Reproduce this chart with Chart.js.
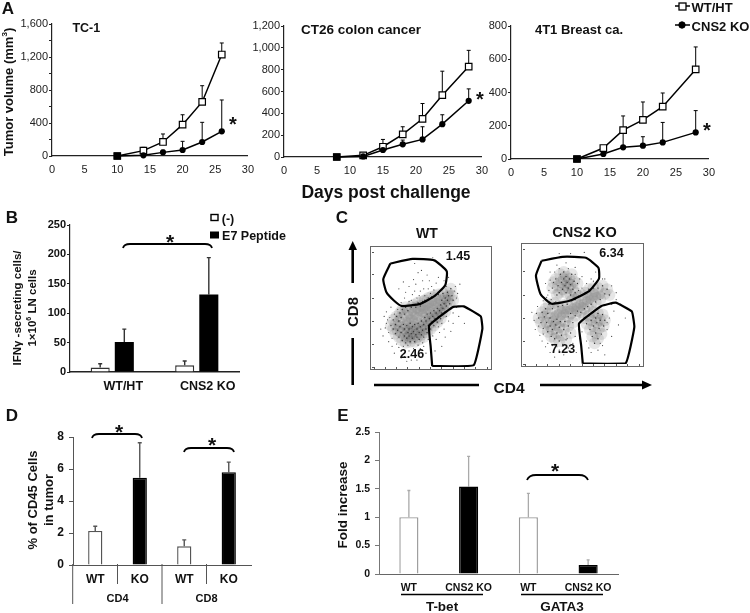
<!DOCTYPE html>
<html>
<head>
<meta charset="utf-8">
<title>Tumor growth panels</title>
<script src="https://cdn.jsdelivr.net/npm/chart.js@4"></script>
<style>
  html, body { margin: 0; padding: 0; background: #fff; }
  #page { position: relative; width: 750px; height: 613px; overflow: hidden; font-family: "Liberation Sans", Arial, sans-serif; color: #111; }
  #page canvas { position: absolute; }
  #page svg { position: absolute; left: 0; top: 0; pointer-events: none; }
  .txt { position: absolute; white-space: nowrap; font-weight: bold; line-height: 1; }
  sup { font-size: 62%; line-height: 0; }
</style>
</head>
<body>
<div id="page">
  <svg id="marks" width="750" height="613" fill="none" stroke="#000">
    <!-- legend A -->
    <path d="M675 6H690M675 25H690" stroke-width="1.5"/>
    <rect x="679" y="3" width="7" height="7" fill="#fff" stroke-width="1.3"/>
    <circle cx="682" cy="25" r="3.2" fill="#000"/>
    <!-- legend B -->
    <rect x="211" y="214.5" width="7" height="6" fill="#fff" stroke-width="1.4"/>
    <rect x="210.5" y="232" width="8" height="6" fill="#000"/>
    <!-- brackets -->
    <path d="M123 248Q124 244 130 244H205Q211 244 212 248" stroke-width="1.8"/>
    <path d="M92 438Q93 434 99 434H135Q141 434 142 438" stroke-width="1.8"/>
    <path d="M184 452Q185 448 191 448H227Q233 448 234 452" stroke-width="1.8"/>
    <path d="M527 480Q529 475 536 475H579Q586 475 588 480" stroke-width="1.8"/>
    <!-- flow plot frames -->
    <rect x="370.5" y="246.5" width="121" height="123" stroke="#666" stroke-width="1"/>
    <rect x="521.5" y="243.5" width="122" height="123" stroke="#666" stroke-width="1"/>
    <!-- flow plot axes -->
    <path d="M352.7 246V283M352.7 338V385M374 385H479M540 385H646" stroke-width="2.6"/>
    <path d="M352.7 241L348.5 250H357Z" fill="#000" stroke="none"/>
    <path d="M652 385L642 380.5V389.5Z" fill="#000" stroke="none"/>
    <!-- panel D group dividers -->
    <path d="M117.5 564V584M206.5 564V584M72.7 564V604M162 564V604" stroke="#555" stroke-width="1"/>
    <!-- panel E group underlines -->
    <path d="M401 594.5H483M521 594.5H603" stroke-width="1.6"/>
  </svg>
</div>
<script>
// panel A, days and tumor volumes
const tcDays = [10, 14, 17, 20, 23, 26]
const tcWt = [0, 65, 170, 380, 655, 1230]
const tcWtErr = [null, 105, 267, 500, 852, 1370]
const tcKo = [0, 8, 44, 73, 170, 299]
const tcKoErr = [null, null, 70, 178, 408, 679]

const ctDays = [8, 12, 15, 18, 21, 24, 28]
const ctWt = [0, 15, 94, 207, 350, 566, 828]
const ctWtErr = [null, null, 161, 277, 490, 786, 977]
const ctKo = [0, 5, 64, 116, 161, 301, 515]
const ctKoErr = [null, null, null, 155, 277, 387, 624]

const brDays = [10, 14, 17, 20, 23, 28]
const brWt = [0, 66, 174, 235, 315, 539]
const brWtErr = [null, 80, 259, 343, 397, 674]
const brKo = [0, 30, 70, 80, 100, 160]
const brKoErr = [null, null, 174, 134, 220, 291]

// panel B
const ifnGroups = ['WT/HT', 'CNS2 KO']
const ifnControl = [7.5, 11.5]
const ifnControlErr = [14, 18.7]
const ifnPeptide = [51, 132]
const ifnPeptideErr = [73, 194.6]

// panel D
const cd45Labels = ['WT', 'KO', 'WT', 'KO']
const cd45Values = [2.13, 5.45, 1.17, 5.8]
const cd45Err = [2.42, 7.64, 1.57, 6.43]

// panel E
const foldLabels = ['WT', 'CNS2 KO', 'WT', 'CNS2 KO']
const foldValues = [1, 1.54, 1, 0.16]
const foldErr = [1.47, 2.07, 1.42, 0.25]

// panel C, gates and events (percent of the plot frame)
const wtUpperGate = [[14.5,90],[34.2,94],[53.4,92.7],[64.4,83.2],[63,71],[53.4,61.6],[41,54.9],[24.7,53],[17.8,57.6],[11,64.9],[8.2,76.5],[14.5,90]]
const wtLowerGate = [[51.5,0.8],[88.2,1.6],[95.9,33.2],[94.5,44],[79.5,52.7],[69.9,52.2],[48.8,36],[50.1,18.4],[51.5,0.8]]
const koUpperGate = [[14.5,89.7],[32.9,93.2],[53.4,92.4],[64.4,83.7],[64.9,74.2],[56.2,63.3],[39.7,55.2],[23.3,52.4],[13.7,60.6],[9.6,76.9],[14.5,89.7]]
const koLowerGate = [[50.7,0.3],[88.2,0.5],[95.9,32],[93.7,45.7],[79.5,53.3],[67.1,50.5],[47.4,35.3],[49.3,15.8],[50.7,0.3]]

const wtCore = [[29,40],[32,42],[35,41],[31,45],[36,45],[39,44],[34,48],[40,48],[43,47],[38,50],[44,50],[47,50],[46,53],[50,52],[49,55],[53,54],[56,56],[52,57],[57,59],[42,52]]
const wtDense = [[15,36],[17,33],[17,41],[19,29],[19,37],[20,44],[21,32],[22,26],[22,40],[23,47],[23,35],[24,30],[24,43],[25,23],[25,50],[26,37],[27,27],[27,33],[27,46],[28,21],[28,52],[29,36],[29,25],[30,30],[30,49],[31,33],[31,27],[32,22],[32,38],[33,52],[33,29],[34,25],[34,35],[35,31],[35,54],[36,22],[36,37],[37,28],[37,52],[38,33],[38,26],[39,38],[39,56],[40,30],[40,24],[41,35],[41,53],[42,28],[42,40],[43,32],[43,57],[44,37],[44,26],[45,43],[45,58],[46,33],[46,40],[47,30],[47,46],[48,36],[48,60],[49,42],[50,33],[50,47],[51,39],[51,61],[52,44],[53,36],[53,49],[54,42],[54,62],[55,47],[56,39],[56,51],[57,44],[57,63],[58,49],[59,54],[59,42],[60,58],[60,47],[61,64],[61,51],[62,55],[63,60],[63,48],[64,53],[65,65],[65,58],[66,62],[67,55],[68,68],[69,62],[70,58]]
const wtSparse = [[10,34],[12,41],[8,27],[13,22],[16,18],[11,48],[18,12],[24,14],[21,50],[27,9],[31,14],[33,6],[37,11],[41,16],[29,5],[44,18],[46,12],[24,56],[27,60],[31,57],[34,63],[38,60],[41,66],[45,62],[48,68],[31,70],[37,72],[43,75],[51,70],[55,73],[47,80],[39,82],[58,66],[62,75],[66,78],[72,70],[74,64],[76,72],[73,52],[70,47],[75,44],[66,40],[62,33],[58,30],[55,24],[60,18],[54,14],[68,31],[80,38],[36,90],[52,95],[22,68],[26,74],[13,30],[14,43],[11,38],[16,25],[18,46],[20,20],[22,17],[26,18],[30,19],[35,16],[39,19],[43,21],[48,24],[52,27],[33,58],[36,66],[40,62],[44,68],[46,58],[50,64],[53,67],[28,65],[35,76],[42,84],[49,75],[57,78],[64,70],[71,66],[73,60],[68,50],[64,44],[60,38],[57,35],[63,26],[70,38],[24,8],[38,6],[6,33],[9,44],[15,52]]

const koCore = [[26,42],[29,44],[32,42],[35,44],[32,47],[36,47],[39,47],[42,49],[45,50],[48,52],[51,53],[54,55],[57,56],[60,58],[63,59],[66,60],[50,50],[56,59],[44,47],[61,62]]
const koDense = [[27,74],[29,68],[30,62],[31,78],[32,71],[33,65],[34,80],[34,74],[35,68],[36,62],[36,76],[37,71],[38,66],[39,74],[40,60],[40,69],[41,78],[42,65],[43,72],[44,62],[24,66],[25,71],[28,60],[46,70],[12,40],[14,36],[15,45],[16,31],[17,41],[18,48],[19,36],[20,28],[20,44],[21,52],[22,33],[22,40],[23,24],[24,48],[24,30],[25,37],[26,22],[26,53],[27,34],[28,27],[28,39],[29,50],[30,20],[30,32],[31,37],[32,25],[33,51],[34,30],[35,37],[36,21],[37,52],[38,33],[38,41],[40,27],[40,44],[41,55],[42,36],[44,42],[44,56],[46,46],[47,59],[49,45],[50,60],[52,48],[53,62],[55,50],[56,65],[58,52],[60,66],[62,54],[64,66],[66,56],[68,68],[70,61],[72,65],[74,60],[52,40],[54,35],[56,42],[57,30],[58,38],[59,24],[60,45],[60,33],[61,18],[62,40],[62,27],[63,36],[64,22],[64,44],[65,31],[66,38],[67,26],[68,43],[69,33],[70,38]]
const koSparse = [[6,45],[8,38],[9,30],[11,50],[13,25],[15,20],[18,15],[22,10],[26,6],[30,12],[34,8],[38,14],[42,18],[45,10],[48,22],[16,55],[20,60],[18,70],[22,80],[28,86],[36,88],[44,84],[50,76],[54,70],[58,74],[62,80],[70,74],[76,68],[80,62],[84,52],[78,46],[74,40],[72,30],[76,24],[68,16],[64,12],[58,10],[70,8],[82,34],[40,96],[52,97],[30,96],[88,40],[19,58],[23,56],[27,54],[21,64],[22,73],[26,80],[30,83],[38,83],[44,78],[48,74],[50,66],[47,64],[10,44],[12,33],[16,26],[20,18],[24,16],[28,15],[33,17],[37,22],[44,24],[47,30],[50,28],[54,20],[56,14],[66,18],[72,36],[76,52],[80,56],[68,74],[60,72]]

Chart.defaults.font.family = '"Liberation Sans", Arial, sans-serif'
Chart.defaults.animation = false
Chart.defaults.responsive = false
Chart.defaults.plugins.legend.display = false
Chart.defaults.plugins.tooltip.enabled = false

const page = document.getElementById('page')

// upward error bars, read from dataset.errTop
const errorBars = {
  id: 'errorBars',
  beforeDatasetsDraw (chart) {
    const ctx = chart.ctx
    chart.data.datasets.forEach((ds, d) => {
      if (!ds.errTop) return
      const meta = chart.getDatasetMeta(d)
      const yScale = chart.scales.y
      ctx.save()
      ctx.strokeStyle = ds.errColor || '#000'
      ctx.lineWidth = ds.errWidth || 1
      meta.data.forEach((el, i) => {
        if (ds.errTop[i] === null) return
        const top = yScale.getPixelForValue(ds.errTop[i])
        const cap = ds.errCap === undefined ? 2 : ds.errCap
        ctx.beginPath()
        ctx.moveTo(el.x, el.y)
        ctx.lineTo(el.x, top)
        ctx.moveTo(el.x - cap, top)
        ctx.lineTo(el.x + cap, top)
        ctx.stroke()
      })
      ctx.restore()
    })
  }
}
Chart.register(errorBars)

// area is the plot rectangle on the page, room is the space kept around it
function addChart (area, room, config) {
  const [x0, y0, x1, y1] = area
  const [l, t, r, b] = room
  const canvas = document.createElement('canvas')
  canvas.width = x1 - x0 + l + r
  canvas.height = y1 - y0 + t + b
  canvas.style.left = (x0 - l) + 'px'
  canvas.style.top = (y0 - t) + 'px'
  page.insertBefore(canvas, document.getElementById('marks'))
  config.options.layout = { padding: { top: t, right: r, left: 0, bottom: 0 } }
  config.options.scales.y.afterFit = s => { s.width = l }
  config.options.scales.x.afterFit = s => { s.height = b }
  return new Chart(canvas, config)
}

function addText (html, cx, cy, size, opts = {}) {
  const el = document.createElement('div')
  el.className = 'txt'
  el.innerHTML = html
  el.style.left = cx + 'px'
  el.style.top = cy + 'px'
  el.style.fontSize = size + 'px'
  el.style.transform = `translate(-50%,-50%) rotate(${opts.rot || 0}deg)`
  page.appendChild(el)
}

const pairs = (xs, ys) => xs.map((x, i) => ({ x, y: ys[i] }))
const points = list => list.map(p => ({ x: p[0], y: p[1] }))

function growthChart (area, room, days, wt, wtErr, ko, koErr, yMax, yStep, labelStep) {
  addChart(area, room, {
    type: 'scatter',
    data: {
      datasets: [
        // first dataset is painted last, KO has to sit on top
        {
          data: pairs(days, ko), errTop: koErr, showLine: true, clip: false,
          borderColor: '#000', borderWidth: 1.5,
          // both groups start together, so the first marker reads as a solid square
          pointStyle: days.map((d, i) => (i === 0 ? 'rect' : 'circle')),
          pointRadius: days.map((d, i) => (i === 0 ? 5 : 3.1)),
          pointBackgroundColor: '#000', pointBorderColor: '#000', pointBorderWidth: 0
        },
        {
          data: pairs(days, wt), errTop: wtErr, showLine: true, clip: false,
          borderColor: '#000', borderWidth: 1.5, pointStyle: 'rect', pointRadius: 4.6,
          pointBackgroundColor: '#fff', pointBorderColor: '#000', pointBorderWidth: 1.2
        }
      ]
    },
    options: {
      scales: {
        x: {
          type: 'linear', min: 0, max: 30,
          border: { color: '#222', width: 1.2 },
          grid: { display: false, drawTicks: false },
          ticks: { stepSize: 5, color: '#222', padding: 7, font: { size: 11 }, maxRotation: 0 }
        },
        y: {
          min: 0, max: yMax,
          border: { color: '#222', width: 1.2 },
          grid: { drawOnChartArea: false, tickLength: 3, tickColor: '#222' },
          ticks: {
            stepSize: yStep, autoSkip: false, color: '#222', padding: 1, font: { size: 11 },
            callback: v => (v % labelStep === 0 ? v.toLocaleString('en-US') : '')
          }
        }
      }
    }
  })
}

growthChart([51.5, 23.5, 250.5, 155.5], [46, 8, 10, 28], tcDays, tcWt, tcWtErr, tcKo, tcKoErr, 1600, 200, 400)
growthChart([283.5, 25.5, 485, 157], [34, 8, 10, 28], ctDays, ctWt, ctWtErr, ctKo, ctKoErr, 1200, 200, 200)
growthChart([510.5, 25.5, 711.5, 158.5], [22, 8, 10, 28], brDays, brWt, brWtErr, brKo, brKoErr, 800, 200, 200)

// panel B
addChart([69.5, 225, 239, 372.5], [30, 8, 6, 24], {
  type: 'bar',
  data: {
    labels: ifnGroups,
    datasets: [
      {
        data: ifnControl, errTop: ifnControlErr, errColor: '#333', errWidth: 1.4,
        backgroundColor: '#fff', borderColor: '#333', borderWidth: 1.4,
        categoryPercentage: 0.571, barPercentage: 0.79
      },
      {
        data: ifnPeptide, errTop: ifnPeptideErr, errColor: '#333', errWidth: 1.4,
        backgroundColor: '#000', borderColor: '#000', borderWidth: 0,
        categoryPercentage: 0.571, barPercentage: 0.79
      }
    ]
  },
  options: {
    scales: {
      x: {
        border: { color: '#222', width: 1.4 },
        grid: { display: false, drawTicks: false },
        ticks: { color: '#111', padding: 7, labelOffset: 11, font: { size: 12.5, weight: 'bold' } }
      },
      y: {
        min: 0, max: 250,
        border: { color: '#222', width: 1.2 },
        grid: { drawOnChartArea: false, tickLength: 3, tickColor: '#222' },
        ticks: { stepSize: 50, color: '#111', padding: 1, font: { size: 11, weight: 'bold' } }
      }
    }
  }
})

// panel C, listed top layer first
function flowChart (area, upper, lower, core, dense, sparse) {
  addChart(area, [3, 1, 1, 3], {
    type: 'scatter',
    data: {
      datasets: [
        { data: points(upper), showLine: true, borderColor: '#000', borderWidth: 2.2, pointRadius: 0, tension: 0.15 },
        { data: points(lower), showLine: true, borderColor: '#000', borderWidth: 2.2, pointRadius: 0, tension: 0.1 },
        { data: points(sparse), pointRadius: 0.6, pointBackgroundColor: '#444', pointBorderWidth: 0 },
        { data: points(dense), pointRadius: 0.7, pointBackgroundColor: '#333', pointBorderWidth: 0 },
        { data: points(core), pointRadius: 4.5, pointBackgroundColor: 'rgba(150,150,150,0.5)', pointBorderWidth: 0 },
        { data: points(dense), pointRadius: 6, pointBackgroundColor: 'rgba(50,50,50,0.12)', pointBorderWidth: 0 }
      ]
    },
    options: {
      scales: {
        x: {
          type: 'linear', min: 0, max: 100,
          border: { display: false },
          grid: { drawOnChartArea: false, tickLength: 2, tickColor: '#555' },
          ticks: { stepSize: 10, display: false }
        },
        y: {
          min: 0, max: 100,
          border: { display: false },
          grid: { drawOnChartArea: false, tickLength: 2, tickColor: '#555' },
          ticks: { stepSize: 20, display: false }
        }
      }
    }
  })
}
flowChart([370.5, 246.5, 491.5, 369.5], wtUpperGate, wtLowerGate, wtCore, wtDense, wtSparse)
flowChart([521.5, 243.5, 643.5, 366.5], koUpperGate, koLowerGate, koCore, koDense, koSparse)

// panel D
addChart([72.5, 436.5, 250.5, 564.5], [28, 14, 6, 28], {
  type: 'bar',
  data: {
    labels: cd45Labels,
    datasets: [{
      data: cd45Values, errTop: cd45Err, errColor: '#555', errWidth: 1.4,
      backgroundColor: ['#fff', '#000', '#fff', '#000'],
      borderColor: ['#555', '#000', '#555', '#000'], borderWidth: 1.4,
      barPercentage: 0.32, categoryPercentage: 1
    }]
  },
  options: {
    scales: {
      x: {
        border: { color: '#555', width: 1 },
        grid: { display: false, drawTicks: false },
        ticks: { color: '#111', padding: 7, font: { size: 12, weight: 'bold' } }
      },
      y: {
        min: 0, max: 8,
        border: { color: '#555', width: 1 },
        grid: { drawOnChartArea: false, tickLength: 4, tickColor: '#555' },
        ticks: { stepSize: 2, color: '#111', padding: 5, font: { size: 12, weight: 'bold' } }
      }
    }
  }
})

// panel E
addChart([379, 432, 618.5, 574.5], [30, 14, 6, 24], {
  type: 'bar',
  data: {
    labels: foldLabels,
    datasets: [{
      data: foldValues, errTop: foldErr, errColor: '#aaa', errWidth: 1.3, errCap: 1.5,
      backgroundColor: ['#fff', '#000', '#fff', '#000'],
      borderColor: ['#999', '#000', '#999', '#000'], borderWidth: 1.4,
      barPercentage: 0.32, categoryPercentage: 1
    }]
  },
  options: {
    scales: {
      x: {
        border: { color: '#666', width: 1 },
        grid: { display: false, drawTicks: false },
        ticks: { color: '#111', padding: 8, font: { size: 10.5, weight: 'bold' } }
      },
      y: {
        min: 0, max: 2.5,
        border: { color: '#777', width: 1 },
        grid: { drawOnChartArea: false, tickLength: 4, tickColor: '#777' },
        ticks: { stepSize: 0.5, color: '#111', padding: 5, font: { size: 10.5, weight: 'bold' }, callback: v => String(v) }
      }
    }
  }
})

// panel letters
addText('A', 8, 8, 17)
addText('B', 12, 217, 17)
addText('C', 342, 217, 17)
addText('D', 12, 415, 17)
addText('E', 343, 415, 17)

// panel A text
addText('Tumor volume (mm<sup>3</sup>)', 7.5, 92, 13, { rot: -90 })
addText('TC-1', 86.3, 28, 12.5)
addText('CT26 colon cancer', 361, 29.5, 13.5)
addText('4T1 Breast ca.', 579, 29, 13)
addText('Days post challenge', 386, 193, 17.5)
addText('WT/HT', 712, 7, 13)
addText('CNS2 KO', 720.5, 25.5, 13)
addText('*', 233, 124, 20)
addText('*', 480, 99, 20)
addText('*', 707, 130, 20)

// panel B text
addText('IFN&gamma; -secreting cells/', 18, 308, 11.5, { rot: -90 })
addText('1&times;10<sup>6</sup> LN cells', 33, 308, 11.5, { rot: -90 })
addText('(-)', 228, 219, 12.5)
addText('E7 Peptide', 254, 236, 12.5)
addText('*', 170, 241, 21)

// panel C text
addText('WT', 427, 233, 14)
addText('CNS2 KO', 584.5, 232, 14.5)
addText('1.45', 458, 256, 12.5)
addText('2.46', 412, 354, 12.5)
addText('6.34', 611.5, 253, 12.5)
addText('7.23', 563, 349, 12.5)
addText('CD8', 352, 312, 15, { rot: -90 })
addText('CD4', 509, 388, 15.5)

// panel D text
addText('% of CD45 Cells', 31.5, 500, 13, { rot: -90 })
addText('in tumor', 48, 500, 13, { rot: -90 })
addText('CD4', 117.5, 597.5, 11)
addText('CD8', 206.5, 597.5, 11)
addText('*', 119, 431, 21)
addText('*', 212, 444, 21)

// panel E text
addText('Fold increase', 343, 505, 13.5, { rot: -90 })
addText('T-bet', 442, 607, 13.5)
addText('GATA3', 562, 607, 13.5)
addText('*', 555, 470, 21)
</script>
</body>
</html>
